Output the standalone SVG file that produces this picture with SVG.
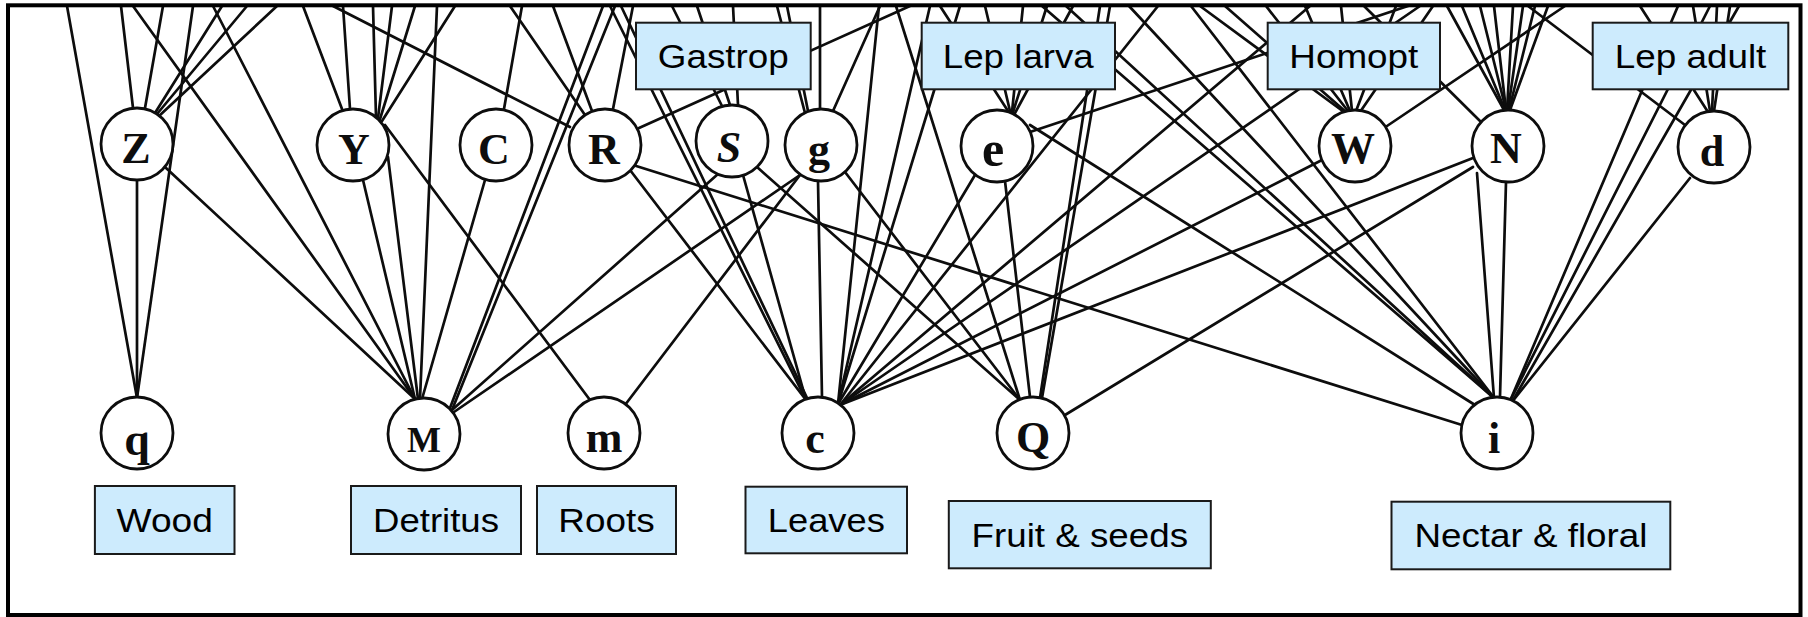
<svg xmlns="http://www.w3.org/2000/svg" width="1808" height="617" viewBox="0 0 1808 617">
  <style>
    .edge { stroke: #0d0d0d; stroke-width: 2.7; stroke-linecap: round; fill: none; }
    .node circle { fill: #fff; stroke: #0d0d0d; stroke-width: 2.8; }
    .node text { font-family: "Liberation Serif", "DejaVu Serif", serif; font-weight: bold; font-size: 44px; text-anchor: middle; fill: #0d0d0d; }
    .label rect { fill: #cdebfd; stroke: #1a1a1a; stroke-width: 2; }
    .label text { font-family: "Liberation Sans", Arial, sans-serif; font-size: 33px; text-anchor: middle; fill: #000; }
  </style>
  <rect x="0" y="0" width="1808" height="617" fill="#fff"/>

  <g id="connectors" class="edge">
    <!-- q (wood) -->
    <line x1="137" y1="398" x2="137" y2="180"/>
    <line x1="137" y1="398" x2="67" y2="6"/>
    <line x1="137" y1="398" x2="193" y2="6"/>
    <!-- Z -->
    <line x1="133" y1="108" x2="121" y2="6"/>
    <line x1="145" y1="108" x2="163" y2="6"/>
    <line x1="155" y1="113" x2="222" y2="6"/>
    <line x1="157" y1="114" x2="247" y2="6"/>
    <line x1="159" y1="116" x2="277" y2="6"/>
    <line x1="166" y1="168" x2="415" y2="399"/>
    <!-- M (detritus) -->
    <line x1="415" y1="399" x2="133" y2="6"/>
    <line x1="415" y1="399" x2="213" y2="6"/>
    <line x1="415" y1="399" x2="363" y2="180"/>
    <line x1="418" y1="399" x2="388" y2="157"/>
    <line x1="420" y1="399" x2="437" y2="6"/>
    <line x1="422" y1="399" x2="485" y2="180"/>
    <line x1="450" y1="408" x2="603" y2="6"/>
    <line x1="452" y1="410" x2="615" y2="6"/>
    <line x1="452" y1="410" x2="718" y2="174"/>
    <line x1="454" y1="412" x2="800" y2="175"/>
    <!-- Y -->
    <line x1="342" y1="109" x2="303" y2="6"/>
    <line x1="350" y1="109" x2="343" y2="6"/>
    <line x1="376" y1="117" x2="373" y2="6"/>
    <line x1="378" y1="118" x2="392" y2="6"/>
    <line x1="380" y1="119" x2="415" y2="6"/>
    <line x1="382" y1="121" x2="455" y2="6"/>
    <!-- m (roots) -->
    <line x1="590" y1="400" x2="385" y2="125"/>
    <line x1="625" y1="405" x2="800" y2="175"/>
    <!-- C -->
    <line x1="504" y1="109" x2="522" y2="6"/>
    <!-- R -->
    <line x1="570" y1="127" x2="333" y2="6"/>
    <line x1="585" y1="115" x2="510" y2="6"/>
    <line x1="592" y1="111" x2="553" y2="6"/>
    <line x1="613" y1="109" x2="633" y2="6"/>
    <line x1="639" y1="128" x2="910" y2="6"/>
    <line x1="630" y1="170" x2="806" y2="400"/>
    <line x1="633" y1="165" x2="1462" y2="425"/>
    <!-- S -->
    <line x1="722" y1="106" x2="672" y2="6"/>
    <line x1="730" y1="105" x2="697" y2="6"/>
    <line x1="738" y1="105" x2="733" y2="6"/>
    <line x1="743" y1="175" x2="806" y2="400"/>
    <line x1="757" y1="167" x2="1020" y2="400"/>
    <!-- g -->
    <line x1="805" y1="113" x2="777" y2="6"/>
    <line x1="808" y1="111" x2="787" y2="6"/>
    <line x1="820" y1="109" x2="820" y2="6"/>
    <line x1="833" y1="111" x2="880" y2="6"/>
    <line x1="818" y1="181" x2="822" y2="397"/>
    <line x1="845" y1="172" x2="1020" y2="400"/>
    <!-- c (leaves) -->
    <line x1="806" y1="400" x2="610" y2="6"/>
    <line x1="808" y1="400" x2="621" y2="6"/>
    <line x1="838" y1="404" x2="879" y2="6"/>
    <line x1="838" y1="404" x2="930" y2="6"/>
    <line x1="838" y1="404" x2="960" y2="6"/>
    <line x1="838" y1="404" x2="975" y2="175"/>
    <line x1="840" y1="405" x2="1158" y2="6"/>
    <line x1="840" y1="405" x2="1310" y2="6"/>
    <line x1="840" y1="405" x2="1420" y2="6"/>
    <line x1="840" y1="405" x2="1322" y2="160"/>
    <line x1="840" y1="405" x2="1473" y2="158"/>
    <!-- Q (fruit & seeds) -->
    <line x1="1020" y1="400" x2="896" y2="6"/>
    <line x1="1030" y1="397" x2="1005" y2="181"/>
    <line x1="1040" y1="398" x2="1100" y2="6"/>
    <line x1="1042" y1="398" x2="1110" y2="6"/>
    <line x1="1065" y1="415" x2="1473" y2="167"/>
    <!-- e -->
    <line x1="1008" y1="111" x2="940" y2="6"/>
    <line x1="1010" y1="111" x2="985" y2="6"/>
    <line x1="1012" y1="112" x2="1023" y2="6"/>
    <line x1="1013" y1="112" x2="1047" y2="6"/>
    <line x1="1015" y1="113" x2="1073" y2="6"/>
    <line x1="1030" y1="132" x2="1408" y2="6"/>
    <line x1="1030" y1="125" x2="1475" y2="405"/>
    <!-- W -->
    <line x1="1344" y1="112" x2="1200" y2="6"/>
    <line x1="1346" y1="112" x2="1225" y2="6"/>
    <line x1="1348" y1="111" x2="1266" y2="6"/>
    <line x1="1350" y1="111" x2="1305" y2="6"/>
    <line x1="1352" y1="111" x2="1341" y2="6"/>
    <line x1="1356" y1="111" x2="1396" y2="6"/>
    <line x1="1360" y1="112" x2="1433" y2="6"/>
    <line x1="1387" y1="126" x2="1565" y2="6"/>
    <!-- N -->
    <line x1="1480" y1="121" x2="1364" y2="6"/>
    <line x1="1504" y1="110" x2="1447" y2="6"/>
    <line x1="1505" y1="110" x2="1462" y2="6"/>
    <line x1="1506" y1="110" x2="1480" y2="6"/>
    <line x1="1506" y1="110" x2="1494" y2="6"/>
    <line x1="1507" y1="110" x2="1513" y2="6"/>
    <line x1="1508" y1="110" x2="1523" y2="6"/>
    <line x1="1509" y1="110" x2="1535" y2="6"/>
    <line x1="1510" y1="110" x2="1548" y2="6"/>
    <line x1="1477" y1="173" x2="1494" y2="398"/>
    <line x1="1506" y1="182" x2="1500" y2="397"/>
    <!-- d -->
    <line x1="1714" y1="147" x2="1528" y2="6"/>
    <line x1="1708" y1="112" x2="1640" y2="6"/>
    <line x1="1710" y1="111" x2="1693" y2="6"/>
    <line x1="1712" y1="111" x2="1717" y2="6"/>
    <line x1="1714" y1="111" x2="1730" y2="6"/>
    <line x1="1690" y1="178" x2="1512" y2="402"/>
    <!-- i (nectar & floral) -->
    <line x1="1495" y1="399" x2="1042" y2="6"/>
    <line x1="1495" y1="399" x2="1066" y2="6"/>
    <line x1="1495" y1="399" x2="1129" y2="6"/>
    <line x1="1495" y1="399" x2="1191" y2="6"/>
    <line x1="1510" y1="401" x2="1678" y2="6"/>
    <line x1="1510" y1="401" x2="1710" y2="6"/>
    <line x1="1512" y1="402" x2="1739" y2="6"/>
  </g>

  <!-- consumer nodes -->
  <g id="node-Z" class="node"><circle cx="137" cy="144" r="36"/><text x="136" y="163">Z</text></g>
  <g id="node-Y" class="node"><circle cx="353" cy="145" r="36"/><text x="354" y="164">Y</text></g>
  <g id="node-C" class="node"><circle cx="496" cy="145" r="36"/><text x="494" y="164">C</text></g>
  <g id="node-R" class="node"><circle cx="605" cy="145" r="36"/><text x="604" y="164">R</text></g>
  <g id="node-S" class="node"><circle cx="732" cy="141" r="36"/><text x="729" y="162" font-style="italic">S</text></g>
  <g id="node-g" class="node"><circle cx="821" cy="145" r="36"/><text x="819" y="164">g</text></g>
  <g id="node-e" class="node"><circle cx="997" cy="146" r="36"/><text x="993" y="166" style="font-size:50px">e</text></g>
  <g id="node-W" class="node"><circle cx="1355" cy="146" r="36"/><text x="1353" y="163">W</text></g>
  <g id="node-N" class="node"><circle cx="1508" cy="146" r="36"/><text x="1506" y="163">N</text></g>
  <g id="node-d" class="node"><circle cx="1714" cy="147" r="36"/><text x="1712" y="166">d</text></g>

  <!-- basal resource nodes -->
  <g id="node-q" class="node"><circle cx="137" cy="433" r="36"/><text x="137" y="455" style="font-size:46px">q</text></g>
  <g id="node-M" class="node"><circle cx="424" cy="434" r="36"/><text x="424" y="452" style="font-size:36px">M</text></g>
  <g id="node-m" class="node"><circle cx="604" cy="433" r="36"/><text x="604" y="452">m</text></g>
  <g id="node-c" class="node"><circle cx="818" cy="433" r="36"/><text x="815" y="453">c</text></g>
  <g id="node-Q" class="node"><circle cx="1033" cy="433" r="36"/><text x="1033" y="452">Q</text></g>
  <g id="node-i" class="node"><circle cx="1497" cy="433" r="36"/><text x="1494" y="453">i</text></g>

  <!-- group labels -->
  <g id="label-gastrop" class="label"><rect x="636" y="22.7" width="174.7" height="66.6"/><text x="723.3" y="67.8" textLength="131" lengthAdjust="spacingAndGlyphs">Gastrop</text></g>
  <g id="label-lep-larva" class="label"><rect x="921.7" y="22.7" width="193.3" height="66.6"/><text x="1018.3" y="67.8" textLength="151" lengthAdjust="spacingAndGlyphs">Lep larva</text></g>
  <g id="label-homopt" class="label"><rect x="1267.7" y="22.7" width="172.3" height="66.6"/><text x="1353.8" y="67.8" textLength="129" lengthAdjust="spacingAndGlyphs">Homopt</text></g>
  <g id="label-lep-adult" class="label"><rect x="1592.7" y="22.7" width="195.6" height="66.6"/><text x="1690.5" y="67.8" textLength="151.7" lengthAdjust="spacingAndGlyphs">Lep adult</text></g>
  <g id="label-wood" class="label"><rect x="94.9" y="486" width="139.6" height="68"/><text x="164.7" y="531.8" textLength="96.3" lengthAdjust="spacingAndGlyphs">Wood</text></g>
  <g id="label-detritus" class="label"><rect x="351" y="486" width="170" height="68"/><text x="436" y="531.8" textLength="126" lengthAdjust="spacingAndGlyphs">Detritus</text></g>
  <g id="label-roots" class="label"><rect x="537" y="486" width="139" height="68"/><text x="606.5" y="531.8" textLength="96.3" lengthAdjust="spacingAndGlyphs">Roots</text></g>
  <g id="label-leaves" class="label"><rect x="745.5" y="486.7" width="161.5" height="66.6"/><text x="826.3" y="531.8" textLength="117" lengthAdjust="spacingAndGlyphs">Leaves</text></g>
  <g id="label-fruit" class="label"><rect x="948.8" y="501" width="262" height="67.3"/><text x="1079.8" y="546.5" textLength="216.5" lengthAdjust="spacingAndGlyphs">Fruit &amp; seeds</text></g>
  <g id="label-nectar" class="label"><rect x="1391.5" y="501.7" width="278.8" height="67.6"/><text x="1530.9" y="547.3" textLength="233" lengthAdjust="spacingAndGlyphs">Nectar &amp; floral</text></g>

  <!-- frame -->
  <rect x="8" y="5.3" width="1792.5" height="609.7" fill="none" stroke="#000" stroke-width="4"/>
</svg>
